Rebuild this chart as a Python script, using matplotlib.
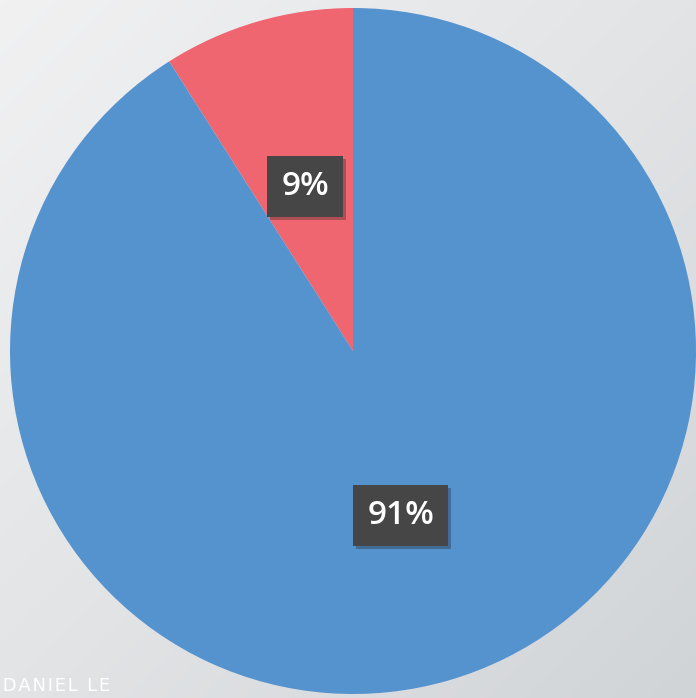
import numpy as np
import matplotlib.pyplot as plt
import matplotlib.patheffects as pe
from matplotlib.colors import LinearSegmentedColormap

# share of each group
shares = [9, 91]
colors = ['#EF6670', '#5593CF']

W, H = 696, 698
fig = plt.figure(figsize=(W / 100, H / 100), dpi=100)

# soft grey backdrop, lighter in the upper left
bg = fig.add_axes([0, 0, 1, 1])
yy, xx = np.mgrid[0:1:200j, 0:1:200j]
shade = 0.5 * xx + 0.5 * yy
greys = LinearSegmentedColormap.from_list('bg', ['#F1F1F2', '#E2E4E6', '#D1D4D7'])
bg.imshow(shade, cmap=greys, vmin=0, vmax=1, extent=[0, 1, 0, 1], aspect='auto', origin='upper')
bg.axis('off')

ax = fig.add_axes([0, 0, 1, 1])
ax.patch.set_alpha(0)
wedges, texts, autotexts = ax.pie(
    shares, colors=colors, startangle=90, counterclock=True,
    center=(353, H - 351), radius=343,
    autopct='%d%%', pctdistance=0.5,
    wedgeprops=dict(linewidth=0),
    textprops=dict(color='white', fontsize=24, family=['Open Sans', 'DejaVu Sans'], fontweight='semibold'))
for t in autotexts:
    t.set_bbox(dict(boxstyle='square,pad=0.42', facecolor='#464646', edgecolor='none'))
    t.get_bbox_patch().set_path_effects(
        [pe.SimplePatchShadow(offset=(2, -2), alpha=0.3), pe.Normal()])
ax.set_xlim(0, W)
ax.set_ylim(0, H)
ax.set_aspect('equal')
ax.axis('off')

fig.text(1 / W, 1 - 686 / H, '\u200aD\u200aA\u200aN\u200aI\u200aE\u200aL\u2009 L\u200aE', color='white', fontsize=13,
         family=['DejaVu Sans'], va='center', ha='left')

fig.savefig('out.png', dpi=100)
